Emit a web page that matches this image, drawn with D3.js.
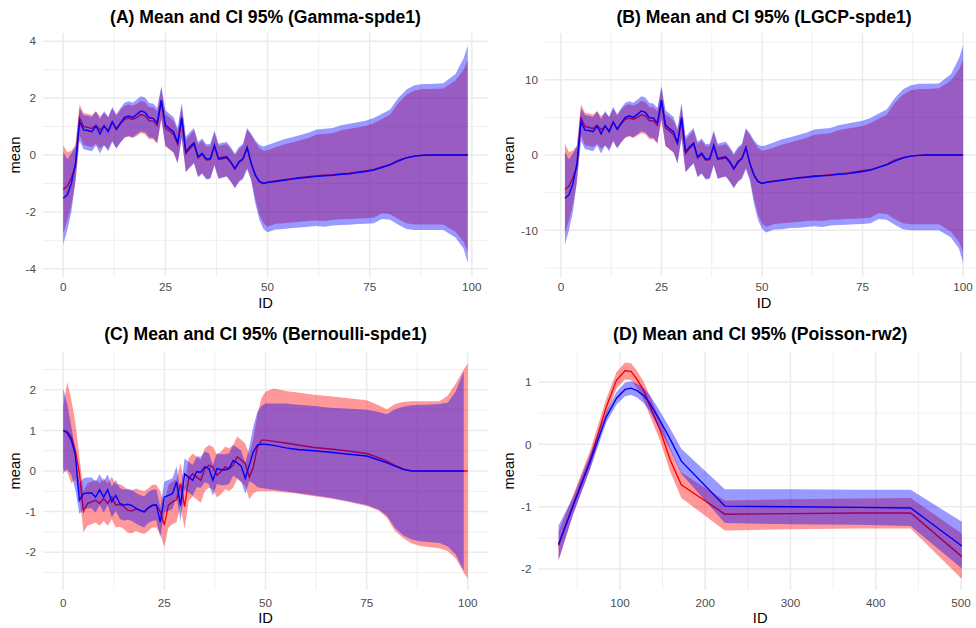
<!DOCTYPE html>
<html><head><meta charset="utf-8">
<script src="https://cdn.jsdelivr.net/npm/d3@7"></script>
<style>html,body{margin:0;padding:0;background:#fff;} svg{display:block;}</style>
</head><body><svg id="chart" width="976" height="628"></svg>
<script>
// ---------------- DATA ----------------
// Panel A (Gamma-spde1)
const A_x = [0,1,2,3,4,5,6,7,8,9,10,11,12,13,14,15,16,17,18,19,20,21,22,23,24,25,26,27,28,29,30,31,32,33,34,35,36,37,38,39,40,41,42,43,44,45,46,47,48,49,
  50,52,54,56,58,60,62,64,66,68,70,72,74,76,78,80,82,84,86,88,90,93,96,98,99];
const A_blueMean = [-1.52,-1.40,-1.00,-0.29,1.17,0.88,0.86,0.82,1.02,0.74,1.03,0.82,1.17,0.91,1.13,1.32,1.37,1.32,1.43,1.55,1.50,1.31,1.29,1.13,1.93,1.05,0.93,0.82,0.43,1.32,0.12,0.29,0.43,-0.06,0.06,-0.14,-0.12,0.35,-0.12,-0.09,-0.06,-0.24,-0.47,-0.24,-0.12,0.27,-0.29,-0.70,-0.93,-1.00,
  -0.97,-0.93,-0.89,-0.85,-0.81,-0.78,-0.75,-0.73,-0.71,-0.68,-0.66,-0.62,-0.58,-0.53,-0.44,-0.35,-0.21,-0.10,-0.04,-0.01,0,0,0,0,0];
const A_blueHi = [0.10,-0.15,0.05,0.30,1.65,1.40,1.38,1.34,1.54,1.26,1.55,1.34,1.69,1.43,1.65,1.84,1.89,1.84,1.95,2.07,2.02,1.83,1.81,1.65,2.42,1.57,1.45,1.34,0.95,1.84,0.64,0.81,0.95,0.46,0.58,0.38,0.40,0.87,0.40,0.43,0.46,0.28,0.05,0.28,0.40,0.95,0.75,0.52,0.36,0.30,
  0.35,0.45,0.55,0.62,0.70,0.78,0.90,0.92,0.95,1.05,1.10,1.15,1.20,1.30,1.45,1.60,2.00,2.30,2.45,2.50,2.50,2.52,2.85,3.40,3.85];
const A_blueLo = [-3.15,-2.65,-2.00,-0.90,0.50,0.20,0.17,0.13,0.33,0.05,0.33,0.13,0.47,0.22,0.43,0.62,0.67,0.62,0.73,0.83,0.80,0.62,0.60,0.43,1.30,0.33,0.20,0.10,-0.30,0.60,-0.60,-0.43,-0.30,-0.78,-0.66,-0.86,-0.84,-0.37,-0.84,-0.80,-0.76,-0.95,-1.17,-0.95,-0.84,-0.50,-0.90,-1.70,-2.28,-2.60,
  -2.72,-2.62,-2.60,-2.57,-2.55,-2.52,-2.50,-2.52,-2.48,-2.46,-2.45,-2.43,-2.42,-2.40,-2.25,-2.28,-2.45,-2.60,-2.64,-2.64,-2.64,-2.64,-2.90,-3.30,-3.80];
const A_redMean = [-1.20,-1.10,-0.80,-0.40,1.30,1.00,0.97,0.93,1.05,0.88,1.00,0.85,1.15,0.90,1.10,1.25,1.30,1.25,1.32,1.42,1.38,1.20,1.20,1.05,1.88,0.95,0.85,0.72,0.38,1.25,0.05,0.22,0.38,-0.10,0.02,-0.18,-0.16,0.30,-0.16,-0.13,-0.10,-0.27,-0.50,-0.27,-0.15,0.25,-0.30,-0.72,-0.94,-1.00,
  -0.95,-0.91,-0.87,-0.83,-0.79,-0.76,-0.73,-0.71,-0.69,-0.66,-0.64,-0.60,-0.56,-0.51,-0.42,-0.33,-0.19,-0.09,-0.04,-0.01,0,0,0,0,0];
const A_redHi = [0.35,0.10,0.15,0.35,1.78,1.48,1.45,1.41,1.53,1.36,1.48,1.33,1.63,1.38,1.58,1.73,1.78,1.73,1.80,1.90,1.86,1.68,1.68,1.53,2.36,1.43,1.33,1.20,0.86,1.73,0.53,0.70,0.86,0.38,0.50,0.30,0.32,0.78,0.32,0.35,0.38,0.21,-0.02,0.21,0.33,0.90,0.70,0.45,0.25,0.15,
  0.17,0.27,0.37,0.44,0.52,0.60,0.72,0.74,0.77,0.87,0.92,0.97,1.02,1.12,1.27,1.42,1.82,2.12,2.27,2.32,2.32,2.34,2.62,3.00,3.35];
const A_redLo = [-2.75,-2.30,-1.75,-0.95,0.70,0.35,0.32,0.28,0.40,0.23,0.35,0.20,0.50,0.25,0.45,0.60,0.65,0.60,0.67,0.77,0.73,0.55,0.55,0.40,1.23,0.30,0.20,0.07,-0.27,0.60,-0.60,-0.43,-0.27,-0.75,-0.63,-0.83,-0.81,-0.35,-0.81,-0.78,-0.75,-0.92,-1.15,-0.92,-0.80,-0.45,-0.85,-1.55,-2.10,-2.40,
  -2.52,-2.42,-2.40,-2.37,-2.35,-2.32,-2.30,-2.32,-2.28,-2.26,-2.25,-2.23,-2.22,-2.20,-2.05,-2.08,-2.25,-2.40,-2.44,-2.44,-2.44,-2.44,-2.70,-3.05,-3.40];

// Panel B (LGCP-spde1)
const B_x = [1,2,3,4,5,6,7,8,9,10,11,12,13,14,15,16,17,18,19,20,21,22,23,24,25,26,27,28,29,30,31,32,33,34,35,36,37,38,39,40,41,42,43,44,45,46,47,48,49,50,
  51,53,55,57,59,61,63,65,67,69,71,73,75,77,79,81,83,85,87,89,91,94,97,99,100];
const B_blueMean = [-5.75,-5.30,-3.80,-1.10,4.40,3.30,3.25,3.10,3.85,2.80,3.90,3.10,4.40,3.45,4.25,5.00,5.20,5.00,5.40,5.85,5.65,4.95,4.90,4.25,7.30,4.00,3.50,3.10,1.60,5.00,0.45,1.10,1.60,-0.25,0.25,-0.55,-0.45,1.30,-0.45,-0.35,-0.25,-0.90,-1.80,-0.90,-0.45,1.00,-1.10,-2.65,-3.50,-3.78,
  -3.65,-3.50,-3.35,-3.20,-3.05,-2.95,-2.85,-2.75,-2.70,-2.55,-2.50,-2.35,-2.20,-2.00,-1.65,-1.30,-0.80,-0.40,-0.15,-0.05,0,0,0,0,0];
const B_blueHi = [0.40,-0.55,0.20,1.15,6.25,5.30,5.20,5.05,5.80,4.75,5.85,5.05,6.40,5.40,6.25,6.95,7.15,6.95,7.35,7.80,7.65,6.90,6.85,6.25,9.15,5.95,5.50,5.05,3.60,6.95,2.40,3.05,3.60,1.75,2.20,1.45,1.50,3.30,1.50,1.65,1.75,1.05,0.20,1.05,1.50,3.60,2.85,1.95,1.35,1.15,
  1.30,1.70,2.10,2.35,2.65,2.95,3.40,3.50,3.60,3.95,4.15,4.35,4.55,4.90,5.50,6.05,7.55,8.70,9.25,9.45,9.45,9.50,10.75,12.85,14.55];
const B_blueLo = [-11.90,-10.00,-7.55,-3.40,1.90,0.75,0.65,0.50,1.25,0.20,1.25,0.50,1.80,0.85,1.65,2.35,2.55,2.35,2.75,3.15,3.00,2.35,2.25,1.65,4.85,1.25,0.75,0.40,-1.15,2.25,-2.25,-1.65,-1.15,-2.95,-2.50,-3.25,-3.20,-1.40,-3.20,-3.00,-2.85,-3.60,-4.40,-3.60,-3.20,-1.90,-3.40,-6.45,-8.60,-9.80,
  -10.30,-9.90,-9.85,-9.70,-9.65,-9.55,-9.45,-9.55,-9.35,-9.30,-9.25,-9.20,-9.15,-9.05,-8.50,-8.60,-9.25,-9.85,-10.00,-10.00,-10.00,-10.00,-10.95,-12.45,-14.35];
const B_redMean = [-4.55,-4.15,-3.00,-1.50,4.90,3.80,3.65,3.50,3.95,3.35,3.80,3.20,4.35,3.40,4.15,4.75,4.90,4.75,5.00,5.35,5.20,4.55,4.55,3.95,7.10,3.60,3.20,2.70,1.45,4.70,0.20,0.85,1.45,-0.40,0.10,-0.70,-0.60,1.15,-0.60,-0.50,-0.40,-1.00,-1.90,-1.00,-0.55,0.95,-1.15,-2.70,-3.55,-3.78,
  -3.60,-3.45,-3.30,-3.15,-3.00,-2.90,-2.75,-2.70,-2.60,-2.50,-2.40,-2.25,-2.10,-1.95,-1.60,-1.25,-0.70,-0.35,-0.15,-0.05,0,0,0,0,0];
const B_redHi = [1.50,0.40,0.55,1.30,6.75,5.60,5.50,5.35,5.80,5.15,5.60,5.05,6.15,5.20,6.00,6.55,6.75,6.55,6.80,7.20,7.05,6.35,6.35,5.80,8.90,5.40,5.05,4.55,3.25,6.55,2.00,2.65,3.25,1.45,1.90,1.15,1.20,2.95,1.20,1.30,1.45,0.80,-0.10,0.80,1.25,3.40,2.65,1.70,0.95,0.55,
  0.65,1.00,1.40,1.65,1.95,2.25,2.70,2.80,2.90,3.30,3.50,3.65,3.85,4.25,4.80,5.35,6.90,8.00,8.60,8.75,8.75,8.85,9.90,11.35,12.65];
const B_redLo = [-10.40,-8.70,-6.60,-3.60,2.65,1.30,1.20,1.05,1.50,0.85,1.30,0.75,1.90,0.95,1.70,2.25,2.45,2.25,2.55,2.90,2.75,2.10,2.10,1.50,4.65,1.15,0.75,0.25,-1.00,2.25,-2.25,-1.65,-1.00,-2.85,-2.40,-3.15,-3.05,-1.30,-3.05,-2.95,-2.85,-3.50,-4.35,-3.50,-3.00,-1.70,-3.20,-5.85,-7.95,-9.05,
  -9.55,-9.15,-9.05,-8.95,-8.90,-8.75,-8.70,-8.75,-8.60,-8.55,-8.50,-8.45,-8.40,-8.30,-7.75,-7.85,-8.50,-9.05,-9.20,-9.20,-9.20,-9.20,-10.20,-11.55,-12.85];

// Panel C (Bernoulli-spde1); blue has no value at x = 100
const C_x = [0,1,2,3,4,5,6,7,8,9,10,11,12,13,14,15,16,17,18,19,20,21,22,23,24,25,26,27,28,29,30,31,32,33,34,35,36,37,38,39,40,41,42,43,44,45,46,47,48,49,50,
  52,55,58,62,66,70,75,78,80,82,84,86,88,90,93,95,97,99,100];
const C_blueMean = [1.00,0.94,0.76,0.39,-0.72,-0.56,-0.54,-0.54,-0.64,-0.46,-0.64,-0.46,-0.76,-0.60,-0.80,-0.84,-0.82,-0.85,-0.92,-0.97,-1.01,-0.90,-0.85,-0.83,-1.26,-0.64,-0.60,-0.56,-0.27,-0.85,-0.07,-0.15,-0.23,-0.02,-0.03,0.10,0.06,-0.23,0.06,0.03,0.03,0.06,0.26,0.20,0.12,-0.18,0.15,0.47,0.64,0.66,0.66,
  0.63,0.57,0.53,0.50,0.46,0.42,0.37,0.27,0.20,0.12,0.04,0.00,0,0,0,0,0,0,null];
const C_blueHi = [2.03,1.65,1.10,0.50,-0.30,-0.18,-0.16,-0.16,-0.26,-0.08,-0.26,-0.08,-0.38,-0.22,-0.42,-0.46,-0.44,-0.47,-0.54,-0.59,-0.63,-0.52,-0.47,-0.45,-0.88,-0.26,-0.22,-0.18,0.11,-0.47,0.31,0.23,0.15,0.36,0.35,0.48,0.44,0.15,0.44,0.41,0.41,0.44,0.64,0.58,0.50,0.20,0.60,1.10,1.45,1.60,1.66,
  1.66,1.66,1.63,1.60,1.56,1.54,1.51,1.45,1.40,1.52,1.58,1.62,1.63,1.63,1.65,1.68,1.95,2.45,null];
const C_blueLo = [-0.06,0.05,-0.10,-0.47,-1.06,-0.94,-0.92,-0.92,-1.02,-0.84,-1.02,-0.84,-1.14,-0.98,-1.18,-1.22,-1.20,-1.23,-1.30,-1.35,-1.39,-1.28,-1.23,-1.21,-1.64,-1.02,-0.98,-0.94,-0.65,-1.23,-0.45,-0.53,-0.61,-0.40,-0.41,-0.28,-0.32,-0.61,-0.32,-0.35,-0.35,-0.32,-0.12,-0.18,-0.26,-0.56,-0.25,-0.30,-0.40,-0.42,-0.43,
  -0.46,-0.50,-0.54,-0.60,-0.66,-0.73,-0.84,-0.95,-1.10,-1.40,-1.58,-1.68,-1.73,-1.75,-1.77,-1.85,-2.05,-2.45,null];
const C_redMean = [1.00,0.97,0.84,0.51,-0.06,-1.00,-0.80,-0.76,-0.72,-0.80,-0.68,-0.80,-0.64,-0.84,-0.82,-0.88,-0.97,-0.98,-0.93,-0.97,-1.00,-0.93,-0.84,-0.84,-1.00,-1.33,-0.84,-0.76,-0.71,-0.31,-0.88,-0.19,-0.07,-0.15,-0.23,0.06,0.14,0.10,-0.10,-0.02,0.10,0.06,0.14,0.35,0.27,0.18,-0.15,0.10,0.59,0.76,0.76,
  0.73,0.69,0.64,0.58,0.54,0.50,0.43,0.33,0.24,0.14,0.05,0.01,0,0,0,0,0,0,0];
const C_redHi = [1.60,2.19,1.75,1.20,0.35,-0.50,-0.30,-0.26,-0.22,-0.30,-0.18,-0.30,-0.14,-0.34,-0.32,-0.38,-0.47,-0.48,-0.43,-0.47,-0.50,-0.43,-0.34,-0.34,-0.50,-0.83,-0.34,-0.26,-0.21,0.19,-0.38,0.31,0.43,0.35,0.27,0.56,0.64,0.60,0.40,0.48,0.60,0.56,0.64,0.85,0.77,0.68,0.40,0.80,1.40,1.80,1.95,
  2.03,1.97,1.93,1.88,1.84,1.80,1.74,1.62,1.52,1.65,1.70,1.72,1.72,1.72,1.72,1.85,2.15,2.50,2.65];
const C_redLo = [0.05,-0.03,-0.30,-0.20,-0.60,-1.50,-1.35,-1.31,-1.27,-1.35,-1.23,-1.35,-1.19,-1.39,-1.37,-1.43,-1.52,-1.53,-1.48,-1.52,-1.55,-1.48,-1.39,-1.39,-1.55,-1.88,-1.39,-1.31,-1.26,-0.86,-1.43,-0.74,-0.62,-0.70,-0.78,-0.49,-0.41,-0.45,-0.65,-0.57,-0.45,-0.49,-0.41,-0.20,-0.28,-0.37,-0.70,-0.55,-0.50,-0.50,-0.50,
  -0.50,-0.53,-0.56,-0.62,-0.68,-0.75,-0.86,-0.98,-1.15,-1.48,-1.65,-1.78,-1.84,-1.87,-1.90,-1.97,-2.15,-2.50,-2.65];

// Panel D (Poisson-rw2)
const D_x = [28,45,65,84,96,106,113,120,128,135,147,159,172,223,300,380,441,501];
const D_blueMean = [-1.60,-0.99,-0.28,0.44,0.74,0.88,0.90,0.86,0.78,0.66,0.38,0.08,-0.27,-0.99,-1.00,-1.01,-1.02,-1.63];
const D_blueHi = [-1.30,-0.85,-0.16,0.53,0.84,0.99,1.01,0.97,0.90,0.79,0.53,0.25,-0.07,-0.72,-0.72,-0.73,-0.73,-1.24];
const D_blueLo = [-1.85,-1.13,-0.40,0.35,0.64,0.77,0.79,0.75,0.66,0.53,0.23,-0.09,-0.47,-1.26,-1.28,-1.29,-1.31,-1.99];
const D_redMean = [-1.62,-0.97,-0.25,0.60,1.03,1.18,1.17,1.04,0.86,0.62,0.23,-0.25,-0.65,-1.12,-1.11,-1.10,-1.10,-1.80];
const D_redHi = [-1.40,-0.82,-0.10,0.73,1.16,1.31,1.30,1.18,1.00,0.78,0.40,-0.06,-0.45,-0.90,-0.88,-0.87,-0.86,-1.43];
const D_redLo = [-1.87,-1.12,-0.40,0.47,0.90,1.04,1.03,0.90,0.71,0.46,0.06,-0.44,-0.86,-1.38,-1.36,-1.35,-1.35,-2.16];

// Tick labels
const A_xTicks = [0,25,50,75,100], A_yTicks = [-4,-2,0,2,4];
const B_xTicks = [0,25,50,75,100], B_yTicks = [-10,0,10];
const C_xTicks = [0,25,50,75,100], C_yTicks = [-2,-1,0,1,2];
const D_xTicks = [100,200,300,400,500], D_yTicks = [-2,-1,0,1];
const titles = ["(A) Mean and CI 95% (Gamma-spde1)","(B) Mean and CI 95% (LGCP-spde1)",
                "(C) Mean and CI 95% (Bernoulli-spde1)","(D) Mean and CI 95% (Poisson-rw2)"];

// ---------------- LAYOUT ----------------
const FONT = "'Liberation Sans', Arial, Helvetica, sans-serif";
const panels = [
  {title:titles[0], x:A_x, bm:A_blueMean, bh:A_blueHi, bl:A_blueLo, rm:A_redMean, rh:A_redHi, rl:A_redLo,
   xt:A_xTicks, yt:A_yTicks, box:{l:43,r:488,t:33,b:277}, xd:[-4.95,103.95], yd:[-4.29,4.29], yTitleX:15, row:0},
  {title:titles[1], x:B_x, bm:B_blueMean, bh:B_blueHi, bl:B_blueLo, rm:B_redMean, rh:B_redHi, rl:B_redLo,
   xt:B_xTicks, yt:B_yTicks, box:{l:545,r:983,t:33,b:277}, xd:[-3.95,104.95], yd:[-16.2,16.2], yTitleX:509, row:0},
  {title:titles[2], x:C_x, bm:C_blueMean, bh:C_blueHi, bl:C_blueLo, rm:C_redMean, rh:C_redHi, rl:C_redLo,
   xt:C_xTicks, yt:C_yTicks, box:{l:43,r:488,t:352,b:590}, xd:[-5,105], yd:[-2.93,2.93], yTitleX:15, row:1},
  {title:titles[3], x:D_x, bm:D_blueMean, bh:D_blueHi, bl:D_blueLo, rm:D_redMean, rh:D_redHi, rl:D_redLo,
   xt:D_xTicks, yt:D_yTicks, box:{l:538.4,r:982,t:352,b:590}, xd:[4.35,524.65], yd:[-2.335,1.48], yTitleX:509, row:1}
];
const rowText = [
  {titleY:23, xTickY:291, xTitleY:308},
  {titleY:340, xTickY:607, xTitleY:623}
];

const svg = d3.select("#chart");
svg.append("rect").attr("width",976).attr("height",628).attr("fill","#fff");

function minors(ticks, dom){
  const step = ticks[1]-ticks[0], out=[];
  for (let t = ticks[0]-step; t <= ticks[ticks.length-1]+step; t += step){
    const m = t + step/2;
    if (m > dom[0] && m < dom[1]) out.push(m);
  }
  return out;
}

panels.forEach((p,i) => {
  const xs = d3.scaleLinear().domain(p.xd).range([p.box.l,p.box.r]);
  const ys = d3.scaleLinear().domain(p.yd).range([p.box.b,p.box.t]);
  const g = svg.append("g");
  const rt = rowText[p.row];
  const clipId = "clip"+i;
  svg.append("clipPath").attr("id",clipId).append("rect")
    .attr("x",p.box.l).attr("y",p.box.t).attr("width",p.box.r-p.box.l).attr("height",p.box.b-p.box.t);
  const grid = g.append("g");
  minors(p.yt,p.yd).forEach(v => grid.append("line").attr("x1",p.box.l).attr("x2",p.box.r)
    .attr("y1",ys(v)).attr("y2",ys(v)).attr("stroke","#EBEBEB").attr("stroke-width",0.8));
  minors(p.xt,p.xd).forEach(v => grid.append("line").attr("y1",p.box.t).attr("y2",p.box.b)
    .attr("x1",xs(v)).attr("x2",xs(v)).attr("stroke","#EBEBEB").attr("stroke-width",0.8));
  p.yt.forEach(v => grid.append("line").attr("x1",p.box.l).attr("x2",p.box.r)
    .attr("y1",ys(v)).attr("y2",ys(v)).attr("stroke","#EBEBEB").attr("stroke-width",1.5));
  p.xt.forEach(v => grid.append("line").attr("y1",p.box.t).attr("y2",p.box.b)
    .attr("x1",xs(v)).attr("x2",xs(v)).attr("stroke","#EBEBEB").attr("stroke-width",1.5));

  const rows = p.x.map((x,k) => ({x, bm:p.bm[k], bh:p.bh[k], bl:p.bl[k], rm:p.rm[k], rh:p.rh[k], rl:p.rl[k]}));
  const area = (hi,lo) => d3.area().defined(d => d[hi]!=null && d[lo]!=null)
      .x(d => xs(d.x)).y0(d => ys(d[lo])).y1(d => ys(d[hi]));
  const line = (m) => d3.line().defined(d => d[m]!=null).x(d => xs(d.x)).y(d => ys(d[m]));
  const marks = g.append("g").attr("clip-path",`url(#${clipId})`);
  marks.append("path").datum(rows).attr("d",area("rh","rl")).attr("fill","#FF0000").attr("fill-opacity",0.4);
  marks.append("path").datum(rows).attr("d",line("rm")).attr("fill","none").attr("stroke","#FF0000").attr("stroke-width",1.4);
  marks.append("path").datum(rows).attr("d",area("bh","bl")).attr("fill","#0000FF").attr("fill-opacity",0.4);
  marks.append("path").datum(rows).attr("d",line("bm")).attr("fill","none").attr("stroke","#0000FF").attr("stroke-width",1.4);

  p.xt.forEach(v => g.append("text").attr("x",xs(v)).attr("y",rt.xTickY).attr("text-anchor","middle")
    .attr("font-family",FONT).attr("font-size",11.7).attr("fill","#4D4D4D").text(v));
  p.yt.forEach(v => g.append("text").attr("x",p.box.l-7).attr("y",ys(v)).attr("dy","0.36em").attr("text-anchor","end")
    .attr("font-family",FONT).attr("font-size",11.7).attr("fill","#4D4D4D").text(v));
  g.append("text").attr("x",(p.box.l+p.box.r)/2).attr("y",rt.xTitleY).attr("text-anchor","middle")
    .attr("font-family",FONT).attr("font-size",14.7).attr("fill","#000").text("ID");
  const cy = (p.box.t+p.box.b)/2;
  g.append("text").attr("transform",`translate(${p.yTitleX},${cy}) rotate(-90)`).attr("dy","0.36em")
    .attr("text-anchor","middle").attr("font-family",FONT).attr("font-size",14.7).attr("fill","#000").text("mean");
  g.append("text").attr("x",(p.box.l+p.box.r)/2).attr("y",rt.titleY).attr("text-anchor","middle")
    .attr("font-family",FONT).attr("font-size",17.6).attr("font-weight","bold").attr("fill","#000").text(p.title);
});
</script></body></html>
